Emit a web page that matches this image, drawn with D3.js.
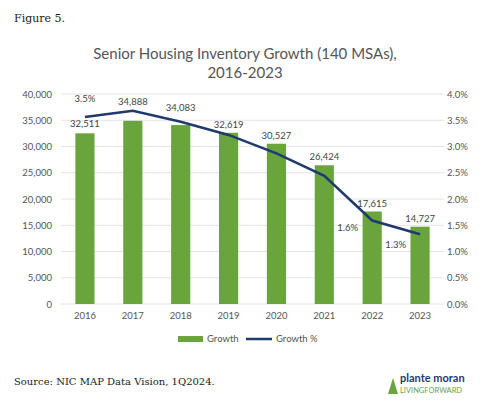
<!DOCTYPE html><html><head><meta charset="utf-8"><script src="https://cdn.jsdelivr.net/npm/d3@7"></script>
<style>body{margin:0;background:#fff}</style></head><body><svg id="c" width="487" height="403"></svg>
<script>
const years=["2016","2017","2018","2019","2020","2021","2022","2023"];
const growth=[32511,34888,34083,32619,30527,26424,17615,14727];
const growthPct=[3.56,3.68,3.47,3.22,2.87,2.44,1.59,1.33];
const pctLabels=["3.5%",null,null,null,null,null,"1.6%","1.3%"];
const leftTicks=[0,5000,10000,15000,20000,25000,30000,35000,40000];
const rightTicks=[0,0.5,1,1.5,2,2.5,3,3.5,4];
const svg=d3.select("#c");
const F="Lato, 'Open Sans', sans-serif";
svg.append("text").attr("x",14).attr("y",22).attr("font-family","'DejaVu Serif', serif").attr("font-size",11).attr("fill","#222").text("Figure 5.");
svg.append("text").attr("x",245).attr("y",59).attr("text-anchor","middle").attr("font-family",F).attr("font-size",15).attr("fill","#555").text("Senior Housing Inventory Growth (140 MSAs),");
svg.append("text").attr("x",245).attr("y",78).attr("text-anchor","middle").attr("font-family",F).attr("font-size",15).attr("fill","#555").text("2016-2023");
const x=d3.scaleBand().domain(years).range([61,444]).paddingInner(0.6).paddingOuter(0.3);
const y=d3.scaleLinear().domain([0,40000]).range([304,94]);
const y2=d3.scaleLinear().domain([0,4]).range([304,94]);
const g=svg.append("g");
g.selectAll("line.g").data(leftTicks).join("line").attr("x1",61).attr("x2",444).attr("y1",d=>y(d)).attr("y2",d=>y(d)).attr("stroke","#e4e4e4");
g.selectAll("text.l").data(leftTicks).join("text").attr("x",52).attr("y",d=>y(d)+3.5).attr("text-anchor","end").attr("font-family",F).attr("font-size",9.5).attr("fill","#555").text(d3.format(","));
g.selectAll("text.r").data(rightTicks).join("text").attr("x",447).attr("y",d=>y2(d)+3.5).attr("font-family",F).attr("font-size",9.5).attr("fill","#555").text(d=>d.toFixed(1)+"%");
g.selectAll("rect").data(years).join("rect").attr("x",d=>x(d)).attr("width",x.bandwidth()).attr("y",(d,i)=>y(growth[i])).attr("height",(d,i)=>304-y(growth[i])).attr("fill","#6aa43d");
g.selectAll("text.x").data(years).join("text").attr("x",d=>x(d)+x.bandwidth()/2).attr("y",319).attr("text-anchor","middle").attr("font-family",F).attr("font-size",9.5).attr("fill","#555").text(d=>d);
const cx=d=>x(d)+x.bandwidth()/2;
g.append("path").datum(years).attr("fill","none").attr("stroke","#1f3a6e").attr("stroke-width",2.5)
 .attr("d",d3.line().x(cx).y((d,i)=>y2(growthPct[i])));
const lift={1:11,2:9};
g.selectAll("text.v").data(years).join("text").attr("x",cx).attr("y",(d,i)=>y(growth[i])-5-(lift[i]||0)-(i==0?1:0)).attr("text-anchor","middle").attr("font-family",F).attr("font-size",9.5).attr("fill","#444").text((d,i)=>d3.format(",")(growth[i]));
const off={0:[0,-15],6:[-14,10],7:[-14,14]};
years.forEach((d,i)=>{if(!pctLabels[i])return;const o=off[i];
 g.append("text").attr("x",cx(d)+o[0]).attr("y",y2(growthPct[i])+o[1]).attr("text-anchor",i==0?"middle":"end").attr("font-family",F).attr("font-size",9.5).attr("fill","#444").text(pctLabels[i]);});
svg.append("rect").attr("x",178).attr("y",336).attr("width",25).attr("height",6).attr("fill","#6aa43d");
svg.append("text").attr("x",207).attr("y",342).attr("font-family",F).attr("font-size",9.5).attr("fill","#555").text("Growth");
svg.append("line").attr("x1",246).attr("x2",272).attr("y1",339).attr("y2",339).attr("stroke","#1f3a6e").attr("stroke-width",2.5);
svg.append("text").attr("x",276).attr("y",342).attr("font-family",F).attr("font-size",9.5).attr("fill","#555").text("Growth %");
svg.append("text").attr("x",14).attr("y",385).attr("font-family","'DejaVu Serif', serif").attr("font-size",10).attr("fill","#222").text("Source: NIC MAP Data Vision, 1Q2024.");
svg.append("text").attr("x",400).attr("y",382).attr("font-family",F).attr("font-weight","bold").attr("font-size",11).attr("fill","#1f3a6e").text("plante moran");
svg.append("text").attr("x",400).attr("y",393).attr("font-family",F).attr("font-size",7.5).attr("fill","#6aa43d").text("LIVINGFORWARD");
svg.append("path").attr("d","M388 394 L393 378 L398 394 Z").attr("fill","#6aa43d");
</script></body></html>
